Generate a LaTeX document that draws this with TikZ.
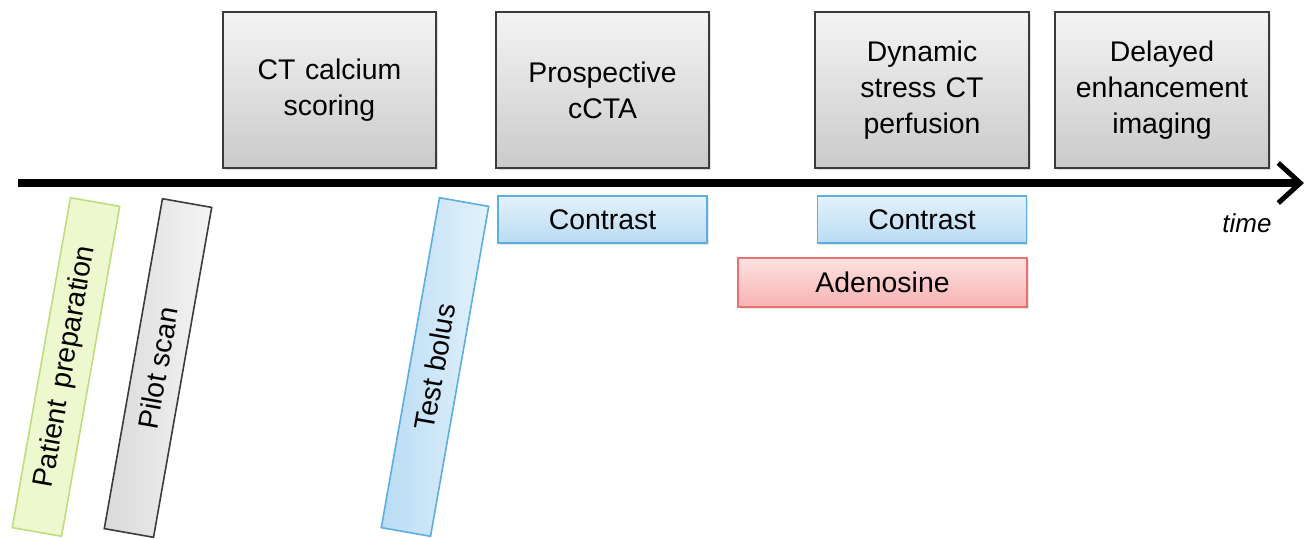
\documentclass[tikz,border=0pt]{standalone}
\usepackage{fontspec}
\setmainfont{Liberation Sans}
\usetikzlibrary{arrows.meta,shadows}

\definecolor{grayedge}{HTML}{3C3C3C}
\definecolor{graytop}{HTML}{F4F4F4}
\definecolor{graybot}{HTML}{CACACA}
\definecolor{blueedge}{HTML}{5BAEDF}
\definecolor{bluetop}{HTML}{E3F1FB}
\definecolor{bluebot}{HTML}{B9DCF4}
\definecolor{rededge}{HTML}{E8706E}
\definecolor{redtop}{HTML}{FDE1E1}
\definecolor{redbot}{HTML}{F8B3B2}
\definecolor{greenedge}{HTML}{BEDD7E}
\definecolor{greenfill}{HTML}{EEF8CF}

\def\barlen{167.5pt}
\def\barwid{25pt}

\begin{document}
\begin{tikzpicture}[x=0.5pt,y=0.5pt,font=\fontsize{14.2}{18}\selectfont]
    \tikzstyle{stage}=[rectangle,draw=grayedge,line width=1pt,top color=graytop,bottom color=graybot,
        minimum width=105.5pt,minimum height=78pt,text width=100pt,align=center,
        drop shadow={opacity=0.25,shadow xshift=1pt,shadow yshift=-1.2pt}]
    \tikzstyle{drug}=[rectangle,line width=0.8pt,minimum height=23.5pt,inner sep=0pt,
        drop shadow={opacity=0.2,shadow xshift=0.8pt,shadow yshift=-1pt}]
    \tikzstyle{contrast}=[drug,draw=blueedge,top color=bluetop,bottom color=bluebot,minimum width=104.5pt]
    \tikzstyle{bar}=[rectangle,rotate=80,minimum width=\barlen,minimum height=\barwid,inner sep=0pt,line width=0.8pt]

    \useasboundingbox (0,-538) rectangle (1308,0);

    % scans above the time line
    \node[stage] (calcium) at (329.5,-90) {CT calcium\\scoring};
    \node[stage] (ccta) at (602.5,-90) {Prospective\\cCTA};
    \node[stage] (perfusion) at (922,-90) {Dynamic\\stress CT\\perfusion};
    \node[stage] (delayed) at (1162,-90) {Delayed\\enhancement\\imaging};

    % time line
    \coordinate (t0) at (18,-183);
    \coordinate (t1) at (1304,-183);
    \draw[line width=4pt,-{Straight Barb[length=11pt,width=20pt,line width=2.5pt]}] (t0) -- (t1);
    \node[font=\fontsize{13}{15}\selectfont\itshape] (time) at (1247,-223) {time};

    % contrast and stress agent
    \node[contrast] (contrast1) at (602.5,-219.5) {Contrast};
    \node[contrast] (contrast2) at (922,-219.5) {Contrast};
    \node[drug,draw=rededge,top color=redtop,bottom color=redbot,minimum width=144.5pt,minimum height=24.5pt] (adenosine) at (882.5,-282.5) {Adenosine};

    % tilted steps below the time line
    \node[bar,draw=greenedge,fill=greenfill] (prep) at (66,-367) {Patient\, preparation};
    \node[bar,draw=grayedge,left color=graybot!70,right color=graytop] (pilot) at (158,-368) {Pilot scan};
    \node[bar,draw=blueedge,left color=bluebot,right color=bluetop] (bolus) at (435,-367) {Test bolus};
\end{tikzpicture}
\end{document}
